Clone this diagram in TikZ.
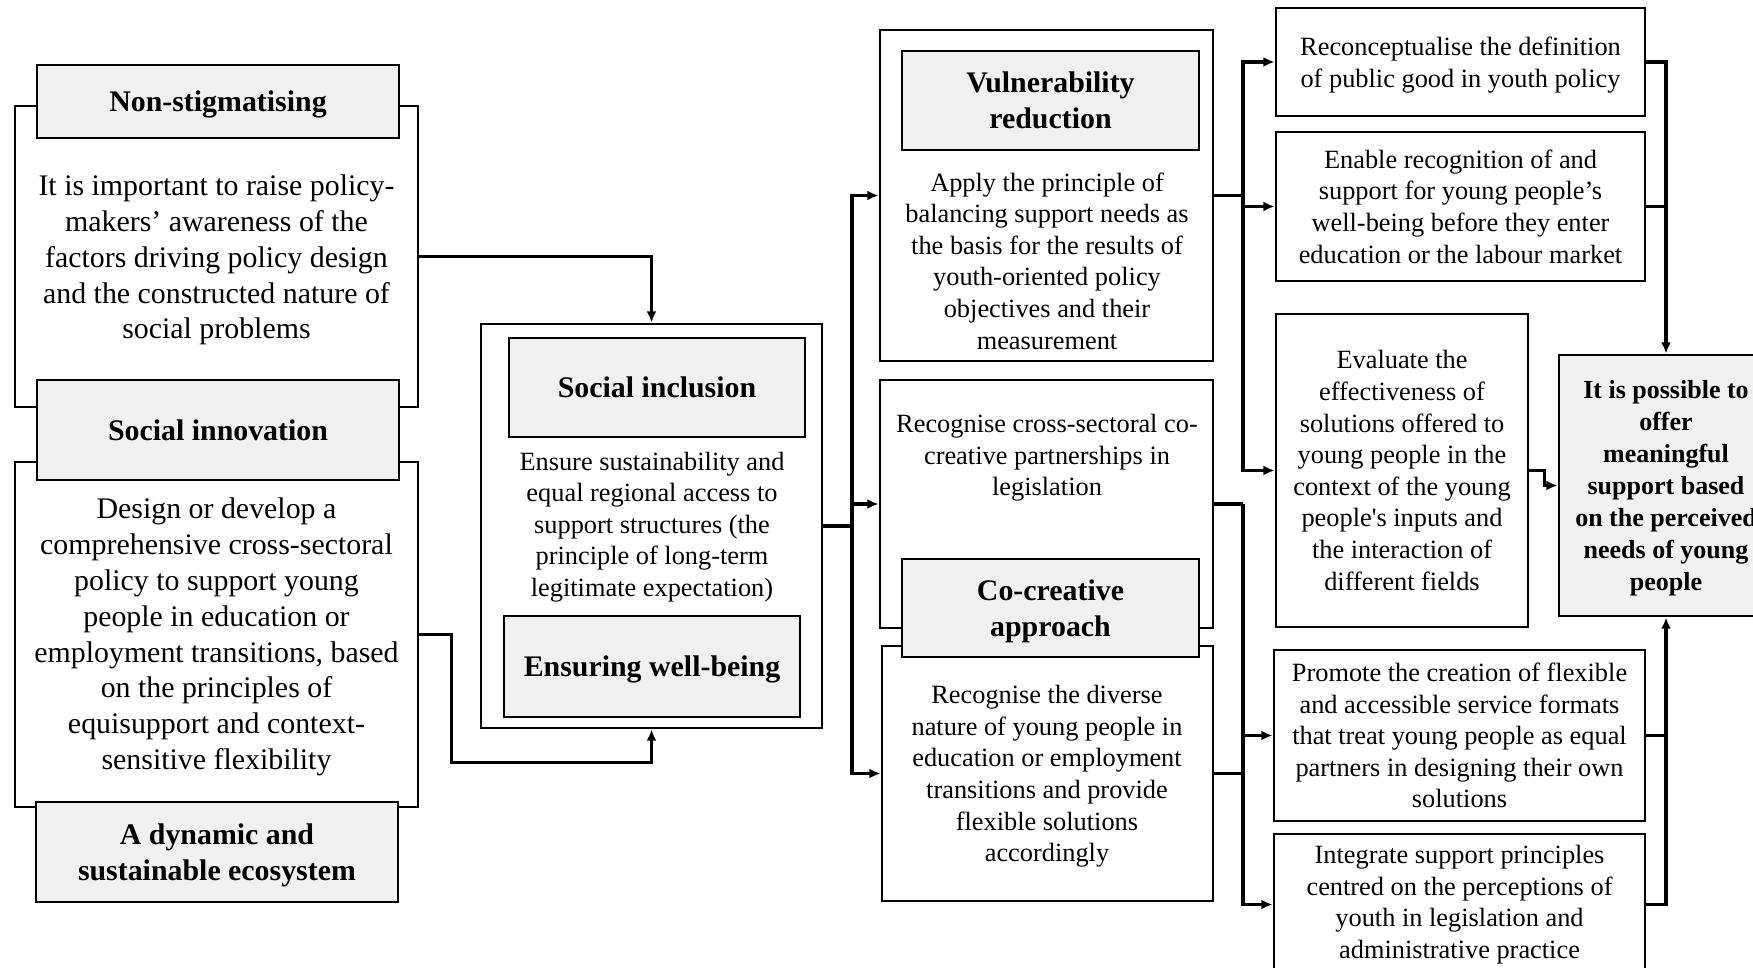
\documentclass[tikz,border=0pt]{standalone}
\usepackage{fontspec}
\setmainfont{Liberation Serif}
\usepackage{tikz}
\usetikzlibrary{arrows.meta, positioning, calc}
\usepackage{xcolor}
\definecolor{hdrgray}{RGB}{240,240,240}

\newcommand\bigfont{\fontsize{8.5}{10.2}\selectfont}
\newcommand\smallfont{\fontsize{7.5}{9}\selectfont}

\tikzset{
  frame/.style={draw, line width=0.8pt, inner sep=0pt},
  hdr/.style={draw, line width=0.8pt, fill=hdrgray, font=\bigfont\bfseries, align=center, inner sep=0pt, text depth=0pt},
  bodytxt/.style={font=\bigfont, align=center, inner sep=0pt},
  smalltxt/.style={font=\smallfont, align=center, inner sep=0pt},
  sbox/.style={draw, line width=0.8pt, font=\smallfont, align=center, inner sep=0pt},
  sz/.style 2 args={minimum width=#1cm, minimum height=#2cm},
  wire/.style={line width=1pt},
  arr/.style={wire, -{Latex[length=3.2pt,width=2.8pt]}},
}

\begin{document}
\begin{tikzpicture}
  \useasboundingbox (0,0) rectangle (17.53,-9.68);
  \clip (0,0) rectangle (17.53,-9.68);

  % left column
  \node[frame, sz={4.03}{3.01}] (frame1) at (2.165,-2.565) {};
  \node[frame, sz={4.03}{3.45}] (frame2) at (2.165,-6.345) {};
  \node[hdr, sz={3.62}{0.73}] (nonstig) at (2.18,-1.015) {Non-stigmatising};
  \node[hdr, sz={3.62}{1.00}] (socinnov) at (2.18,-4.30) {Social innovation};
  \node[hdr, sz={3.62}{1.00}] (ecosys) at (2.17,-8.52) {A dynamic and\\sustainable ecosystem};
  \node[bodytxt] (nonstigtxt) at (2.165,-2.60) {It is important to raise policy-\\makers’ awareness of the\\factors driving policy design\\and the constructed nature of\\social problems};
  \node[bodytxt] (socinnovtxt) at (2.165,-6.37) {Design or develop a\\comprehensive cross-sectoral\\policy to support young\\people in education or\\employment transitions, based\\on the principles of\\equisupport and context-\\sensitive flexibility};

  % middle column
  \node[frame, sz={3.41}{4.04}] (midframe) at (6.515,-5.26) {};
  \node[hdr, sz={2.96}{0.99}] (socincl) at (6.57,-3.875) {Social inclusion};
  \node[hdr, sz={2.96}{1.01}] (wellbeing) at (6.52,-6.665) {Ensuring well-being};
  \node[smalltxt] (socincltxt) at (6.52,-5.27) {Ensure sustainability and\\equal regional access to\\support structures (the\\principle of long-term\\legitimate expectation)};

  % third column
  \node[frame, sz={3.33}{3.31}] (vulnframe) at (10.465,-1.955) {};
  \node[frame, sz={3.33}{2.48}] (coup) at (10.465,-5.04) {};
  \node[frame, sz={3.31}{2.55}] (colow) at (10.475,-7.735) {};
  \node[hdr, sz={2.97}{0.99}] (vuln) at (10.505,-1.005) {Vulnerability\\reduction};
  \node[hdr, sz={2.97}{0.98}] (cocreate) at (10.505,-6.08) {Co-creative\\approach};
  \node[smalltxt] (vulntxt) at (10.47,-2.61) {Apply the principle of\\balancing support needs as\\the basis for the results of\\youth-oriented policy\\objectives and their\\measurement};
  \node[smalltxt] (couptxt) at (10.47,-4.58) {Recognise cross-sectoral co-\\creative partnerships in\\legislation};
  \node[smalltxt] (colowtxt) at (10.47,-7.765) {Recognise the diverse\\nature of young people in\\education or employment\\transitions and provide\\flexible solutions\\accordingly};

  % right column
  \node[sbox, text depth=0pt, sz={3.69}{1.08}] (recon) at (14.605,-0.62) {Reconceptualise the definition\\of public good in youth policy};
  \node[sbox, sz={3.69}{1.49}] (enable) at (14.605,-2.065) {Enable recognition of and\\support for young people’s\\well-being before they enter\\education or the labour market};
  \node[sbox, sz={2.52}{3.13}] (evaluate) at (14.02,-4.705) {Evaluate the\\effectiveness of\\solutions offered to\\young people in the\\context of the young\\people\textquotesingle s inputs and\\the interaction of\\different fields};
  \node[sbox, sz={3.71}{1.71}] (promote) at (14.595,-7.355) {Promote the creation of flexible\\and accessible service formats\\that treat young people as equal\\partners in designing their own\\solutions};
  \node[sbox, sz={3.71}{1.41}] (integrate) at (14.595,-9.045) {Integrate support principles\\centred on the perceptions of\\youth in legislation and\\administrative practice};
  \node[hdr, font=\fontsize{7.4}{9.1}\selectfont\bfseries, sz={2.14}{2.61}] (final) at (16.66,-4.855) {It is possible to\\offer\\meaningful\\support based\\on the perceived\\needs of young\\people};

  % connectors
  \coordinate (bus1) at (8.52,-5.26);
  \coordinate (bus2) at (12.43,-1.955);
  \coordinate (bus3) at (12.43,-5.04);

  \draw[arr] (frame1.east) -| (midframe.north);
  \draw[arr] (frame2.east) -- ++(0.32,0) |- ([yshift=-0.33cm]midframe.south) -- (midframe.south);

  \draw[wire] (midframe.east) -- (bus1);
  \draw[arr] (bus1) |- (vulnframe.west);
  \draw[arr] (bus1) |- (coup.west);
  \draw[arr] (bus1) |- (colow.west);

  \draw[wire] (vulnframe.east) -- (bus2);
  \draw[arr] (bus2) |- (recon.west);
  \draw[arr] (bus2) |- (enable.west);
  \draw[arr] (bus2) |- (evaluate.west);

  \draw[wire] (coup.east) -- (bus3);
  \draw[wire] (colow.east) -- (colow.east -| bus3);
  \draw[arr] (bus3) |- (promote.west);
  \draw[arr] (bus3) |- (integrate.west);

  \draw[arr] (recon.east) -| (final.north);
  \draw[wire] (enable.east) -- (enable.east -| final.north);
  \draw[arr] (integrate.east) -| (final.south);
  \draw[wire] (promote.east) -- (promote.east -| final.south);
  \draw[arr] (evaluate.east) -- ++(0.15,0) |- (final.west);
\end{tikzpicture}
\end{document}
